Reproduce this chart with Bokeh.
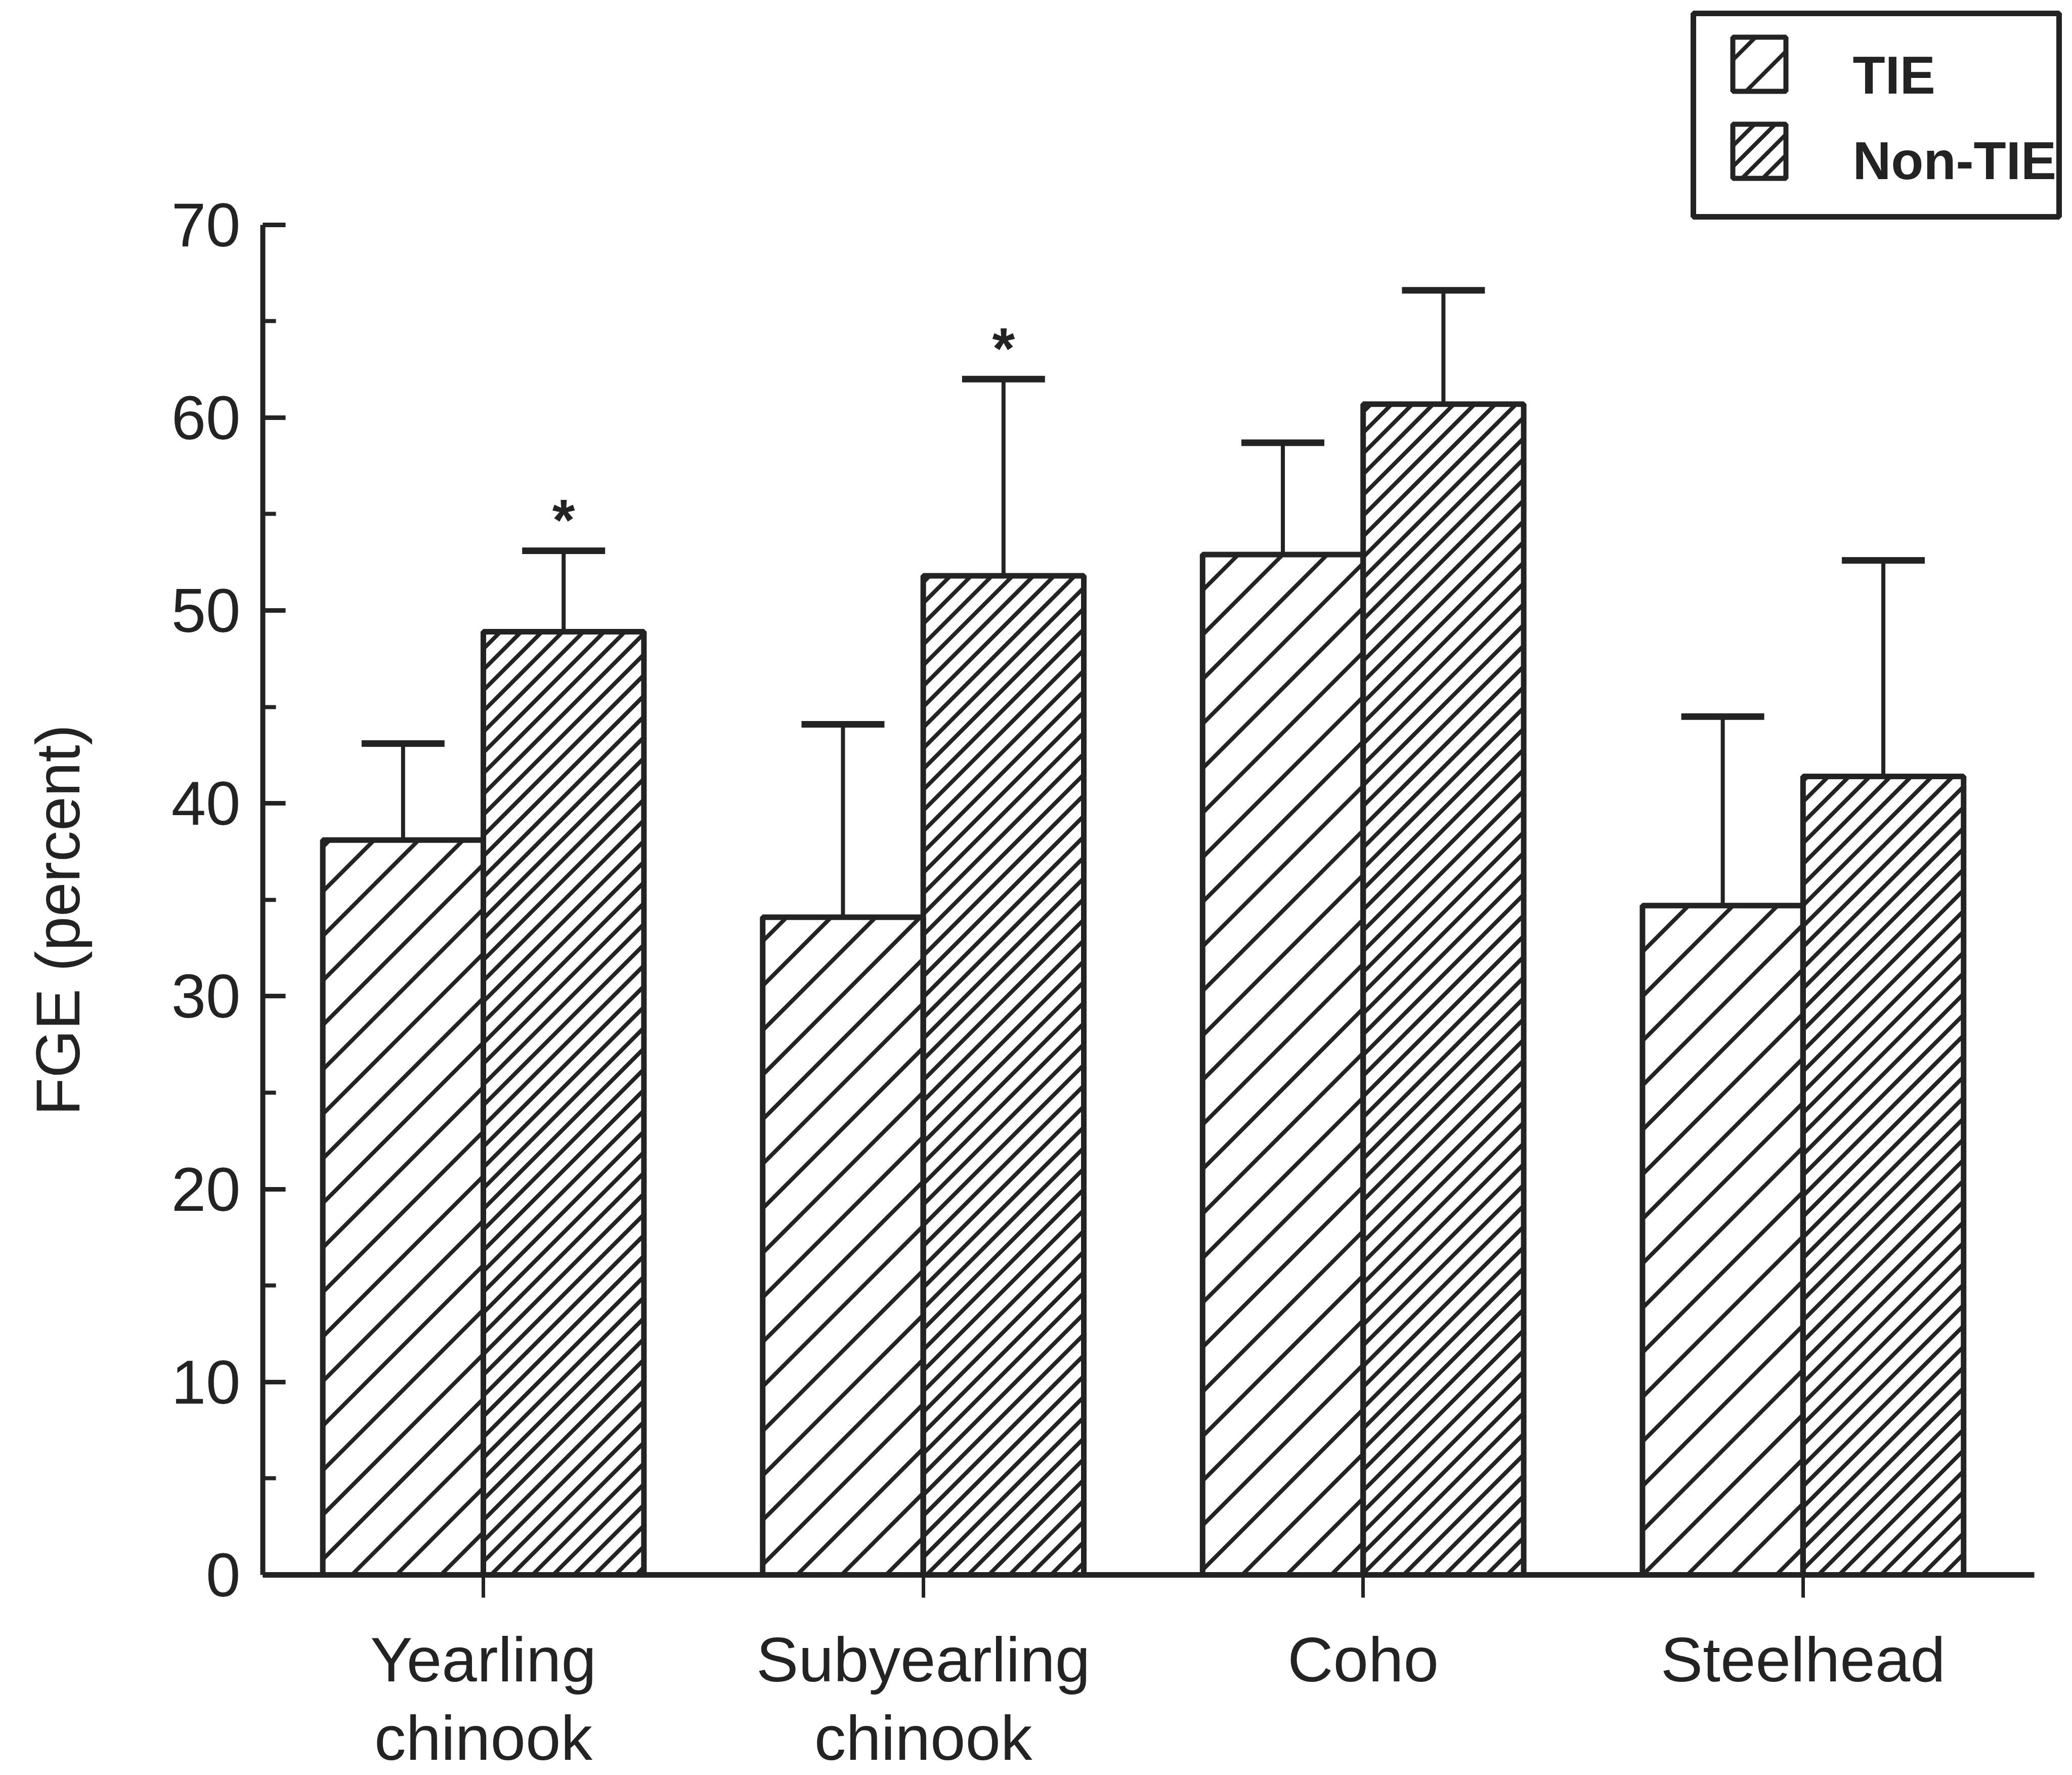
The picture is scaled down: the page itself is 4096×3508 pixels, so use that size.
import numpy as np
from bokeh.plotting import figure
from bokeh.layouts import row
from bokeh.models import (Range1d, SingleIntervalTicker, FixedTicker, Whisker, TeeHead,
                          ColumnDataSource, Label, BoxAnnotation)
from bokeh.core.properties import value
from bokeh.embed import file_html
from bokeh.resources import INLINE

# ---------------- data ----------------
categories = ["Yearling\nchinook", "Subyearling\nchinook", "Coho", "Steelhead"]
series_names = ["TIE", "Non-TIE"]
tie_mean = [38.1, 34.1, 52.9, 34.7]
tie_err = [5.0, 10.0, 5.8, 9.8]
nontie_mean = [48.9, 51.8, 60.7, 41.4]
nontie_err = [4.2, 10.2, 5.9, 11.2]
nontie_significant = [True, True, False, False]
y_axis_label = "FGE (percent)"

INK = "#232323"
FONT = "Liberation Sans"
HS_TIE, HS_NON = 88, 41          # hatch spacing (px) for TIE / Non-TIE
HATCH_W = 8

cat_pos = np.arange(1, len(categories) + 1, dtype=float)
bar_w = 0.365
tie_x = cat_pos - bar_w / 2
nontie_x = cat_pos + bar_w / 2

LAB_W = 300
FRAME_W, FRAME_H = 3561, 3112
X0, X1 = 0.4986, 4.5936
Y0, Y1 = 0.0, 81.64
KX = FRAME_W / (X1 - X0)   # px per x unit
KY = FRAME_H / (Y1 - Y0)   # px per y unit


def hatch45(u0, u1, v0, v1, s):
    """45-degree '/' hatch lines inside a pixel box (frame coords, v up)."""
    out = []
    c = np.floor((u0 - v1) / s) * s
    while c <= u1 - v0:
        lo = max(v0, u0 - c)
        hi = min(v1, u1 - c)
        if hi - lo > 1:
            out.append((lo + c, lo, hi + c, hi))
        c += s
    return out


def to_data(segs):
    a = np.array(segs, dtype=float).reshape(-1, 4)
    return dict(x0=X0 + a[:, 0] / KX, y0=Y0 + a[:, 1] / KY,
                x1=X0 + a[:, 2] / KX, y1=Y0 + a[:, 3] / KY)


p = figure(frame_width=FRAME_W, frame_height=FRAME_H,
           x_range=Range1d(X0, X1), y_range=Range1d(Y0, Y1),
           output_backend="svg", toolbar_location=None, title=None,
           min_border_left=519 - LAB_W, min_border_right=0, min_border_top=0,
           min_border_bottom=380, background_fill_color="white",
           border_fill_color="white")
p.outline_line_color = None
p.xgrid.visible = False
p.ygrid.visible = False

# ---------------- y axis ----------------
ya = p.yaxis[0]
ya.bounds = (0, 70)
ya.ticker = SingleIntervalTicker(interval=10, num_minor_ticks=2)
ya.axis_line_width = 10
ya.axis_line_color = INK
ya.major_tick_in = 45
ya.major_tick_out = 0
ya.major_tick_line_width = 9
ya.major_tick_line_color = INK
ya.minor_tick_in = 26
ya.minor_tick_out = 0
ya.minor_tick_line_width = 8
ya.minor_tick_line_color = INK
ya.major_label_text_font = FONT
ya.major_label_text_font_size = "123px"
ya.major_label_text_color = INK
ya.major_label_standoff = 44

# ---------------- x axis ----------------
xa = p.xaxis[0]
xa.bounds = (X0, 4.526)
xa.ticker = FixedTicker(ticks=list(cat_pos), minor_ticks=[])
xa.major_label_overrides = {int(k): lab for k, lab in zip(cat_pos, categories)}
xa.axis_line_width = 11
xa.axis_line_color = INK
xa.major_tick_in = 0
xa.major_tick_out = 45
xa.major_tick_line_width = 7
xa.major_tick_line_color = INK
xa.minor_tick_line_color = None
xa.major_label_text_font = FONT
xa.major_label_text_font_size = "125px"
xa.major_label_text_color = INK
xa.major_label_text_line_height = 1.12
xa.major_label_standoff = 52

# ---------------- bars: white fill, 45-degree hatch, outline ----------------
p.vbar(x=tie_x, top=tie_mean, bottom=0, width=bar_w, fill_color="white", line_color=None)
p.vbar(x=nontie_x, top=nontie_mean, bottom=0, width=bar_w, fill_color="white", line_color=None)

bar_segs = []
for xs, tops, s in ((tie_x, tie_mean, HS_TIE), (nontie_x, nontie_mean, HS_NON)):
    for xc, t in zip(xs, tops):
        bar_segs += hatch45((xc - bar_w / 2 - X0) * KX, (xc + bar_w / 2 - X0) * KX,
                            0.0, (t - Y0) * KY, s)
p.segment(source=ColumnDataSource(to_data(bar_segs)), x0="x0", y0="y0", x1="x1", y1="y1",
          line_color=INK, line_width=HATCH_W, line_cap="butt")

p.vbar(x=tie_x, top=tie_mean, bottom=0, width=bar_w, fill_color=None,
       line_color=INK, line_width=11)
p.vbar(x=nontie_x, top=nontie_mean, bottom=0, width=bar_w, fill_color=None,
       line_color=INK, line_width=11)

# ---------------- error bars ----------------
err_src = ColumnDataSource(dict(
    x=np.concatenate([tie_x, nontie_x]),
    lower=np.concatenate([tie_mean, nontie_mean]),
    upper=np.concatenate([np.add(tie_mean, tie_err), np.add(nontie_mean, nontie_err)]),
))
p.add_layout(Whisker(source=err_src, base="x", lower="lower", upper="upper",
                     dimension="height", line_width=8, line_color=INK,
                     lower_head=None,
                     upper_head=TeeHead(size=164, line_width=13, line_color=INK)))

# ---------------- significance marks ----------------
sig = np.array(nontie_significant)
sig_top = (np.add(nontie_mean, nontie_err))[sig]
p.text(x=nontie_x[sig], y=sig_top + 1.6, text=["*"] * int(sig.sum()),
       text_font=value(FONT), text_font_size="115px", text_font_style="bold",
       text_align="center", text_baseline="middle", text_color=INK)

# ---------------- legend (frame-relative screen units) ----------------
p.add_layout(BoxAnnotation(left=2828, right=3551, top=3086, bottom=2684,
                           left_units="screen", right_units="screen",
                           top_units="screen", bottom_units="screen",
                           fill_color=None, fill_alpha=0, line_color=INK,
                           line_alpha=1.0, line_width=11))
legend_rows = [(3039, 2932, HS_TIE, 2964), (2867, 2760, HS_NON, 2795)]
leg_segs = []
SW_L, SW_R = 2906, 3011
for name, (top, bottom, hs, base) in zip(series_names, legend_rows):
    leg_segs += hatch45(SW_L, SW_R, bottom, top, hs)
    p.add_layout(BoxAnnotation(left=SW_L, right=SW_R, top=top, bottom=bottom,
                               left_units="screen", right_units="screen",
                               top_units="screen", bottom_units="screen",
                               fill_color=None, fill_alpha=0,
                               line_color=INK, line_alpha=1.0, line_width=10))
    p.add_layout(Label(x=3143, y=base, x_units="screen", y_units="screen",
                       text=name, text_align="left", text_baseline="alphabetic",
                       text_font=FONT, text_font_style="bold",
                       text_font_size="105px", text_color=INK))
p.segment(source=ColumnDataSource(to_data(leg_segs)), x0="x0", y0="y0", x1="x1", y1="y1",
          line_color=INK, line_width=HATCH_W, line_cap="butt")

# ---------------- y axis title (separate narrow panel) ----------------
p_lab = figure(width=LAB_W, height=FRAME_H, x_range=Range1d(0, LAB_W),
               y_range=Range1d(0, FRAME_H), output_backend="svg",
               toolbar_location=None, title=None, min_border=0,
               x_axis_type=None, y_axis_type=None,
               background_fill_color="white", border_fill_color="white")
p_lab.outline_line_color = None
p_lab.text(x=[114], y=[1030], text=[y_axis_label], angle=np.pi / 2,
           text_align="center", text_baseline="alphabetic",
           text_font=value(FONT), text_font_size="122px", text_color=INK)

layout = row(p_lab, p)
open("out.html", "w").write(file_html(layout, INLINE))
